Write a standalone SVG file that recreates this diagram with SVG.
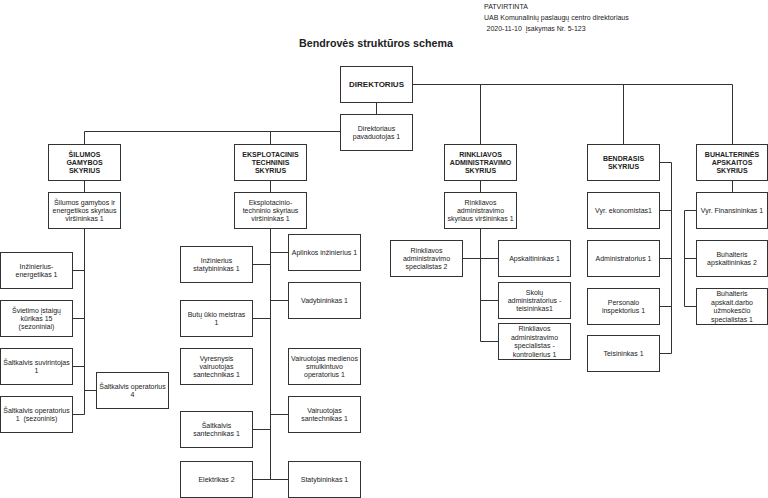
<svg xmlns="http://www.w3.org/2000/svg" width="768" height="498" viewBox="0 0 768 498">
<style>
.b{fill:#fff;stroke:#333;stroke-width:1}
.c{fill:none;stroke:#333;stroke-width:1}
text{font-family:"Liberation Sans",Arial,sans-serif;font-size:7px;fill:#222;text-anchor:middle;white-space:pre}
.h{font-weight:bold}
.l{text-anchor:start}
</style>
<rect width="768" height="498" fill="#fff"/>
<g id="header">
<text class="l" x="484" y="9">PATVIRTINTA</text>
<text class="l" x="484" y="19.8">UAB Komunalinių paslaugų centro direktoriaus</text>
<text class="l" x="486.5" y="30.6">2020-11-10  įsakymas Nr. 5-123</text>
<text class="l h" x="299" y="46.5" style="font-size:10.7px">Bendrovės struktūros schema</text>
</g>
<g id="connectors">
<path class="c" d="M412.5 84.5H732.5M480.5 84.5V144M623.5 84.5V144M732.5 84.5V144"/>
<path class="c" d="M376.5 102V114M84.5 131.5H340.5M84.5 131.5V144M270.5 131.5V144"/>
<path class="c" d="M84.5 180V192M84.5 228V414.5M72.5 270.5H84.5M72.5 318.5H84.5M72.5 366.5H84.5M72.5 414.5H84.5M84.5 390.5H96.5"/>
<path class="c" d="M270.5 180V192M270.5 228V479.5M270.5 252.5H288.5M252.5 264.5H270.5M270.5 300.5H288.5M252.5 318.5H270.5M270.5 414.5H288.5M252.5 429.5H270.5M252.5 479.5H288.5"/>
<path class="c" d="M480.5 180V192M480.5 228V341.5M462.5 258.5H498.5M480.5 300.5H498.5M480.5 341.5H498.5"/>
<path class="c" d="M659.5 162.5H671.5V353.5M659.5 210.5H671.5M659.5 258.5H671.5M659.5 306.5H671.5M659.5 353.5H671.5"/>
<path class="c" d="M732.5 180V192M696.5 210.5H684.5V306.5M684.5 258.5H696.5M684.5 306.5H696.5"/>
</g>
<g id="direktorius"><rect class="b" x="340.5" y="66.5" width="72" height="36"/><text class="h" x="376.5" y="87.3" style="font-size:8px">DIREKTORIUS</text></g>
<g id="pavaduotojas"><rect class="b" x="340.5" y="114.5" width="72" height="36"/><text x="376.5" y="130.8">Direktoriaus<tspan x="376.5" dy="8.4">pavaduotojas 1</tspan></text></g>

<g id="silumos"><rect class="b" x="48.5" y="144.5" width="72" height="36"/><text class="h" x="84.5" y="156.6">ŠILUMOS<tspan x="84.5" dy="8.4">GAMYBOS</tspan><tspan x="84.5" dy="8.4">SKYRIUS</tspan></text></g>
<g id="silumos-vir"><rect class="b" x="48.5" y="192.5" width="72" height="36"/><text x="84.5" y="204.6">Šilumos gamybos ir<tspan x="84.5" dy="8.4">energetikos skyriaus</tspan><tspan x="84.5" dy="8.4">viršininkas 1</tspan></text></g>
<g id="inz-energ"><rect class="b" x="0.5" y="252.5" width="72" height="36"/><text x="36.5" y="268.8">Inžinierius-<tspan x="36.5" dy="8.4">energetikas 1</tspan></text></g>
<g id="svietimo"><rect class="b" x="0.5" y="300.5" width="72" height="36"/><text x="36.5" y="312.6">Švietimo įstaigų<tspan x="36.5" dy="8.4">kūrikas 15</tspan><tspan x="36.5" dy="8.4">(sezoniniai)</tspan></text></g>
<g id="suvirintojas"><rect class="b" x="0.5" y="348.5" width="72" height="36"/><text x="36.5" y="364.8">Šaltkalvis suvirintojas<tspan x="36.5" dy="8.4">1</tspan></text></g>
<g id="operatorius-sez"><rect class="b" x="0.5" y="396.5" width="72" height="36"/><text x="36.5" y="412.8">Šaltkalvis operatorius<tspan x="36.5" dy="8.4">1  (sezoninis)</tspan></text></g>
<g id="operatorius-4"><rect class="b" x="96.5" y="372.5" width="72" height="36"/><text x="132.5" y="388.8">Šaltkalvis operatorius<tspan x="132.5" dy="8.4">4</tspan></text></g>

<g id="eksplotacinis"><rect class="b" x="234.5" y="144.5" width="72" height="36"/><text class="h" x="270.5" y="156.6">EKSPLOTACINIS<tspan x="270.5" dy="8.4">TECHNINIS</tspan><tspan x="270.5" dy="8.4">SKYRIUS</tspan></text></g>
<g id="eksp-vir"><rect class="b" x="234.5" y="192.5" width="72" height="36"/><text x="270.5" y="204.6">Eksplotacinio-<tspan x="270.5" dy="8.4">techninio skyriaus</tspan><tspan x="270.5" dy="8.4">viršininkas 1</tspan></text></g>
<g id="aplinkos"><rect class="b" x="288.5" y="234.5" width="72" height="36"/><text x="324.5" y="255">Aplinkos inžinierius 1</text></g>
<g id="inz-stat"><rect class="b" x="180.5" y="246.5" width="72" height="36"/><text x="216.5" y="262.8">Inžinierius<tspan x="216.5" dy="8.4">statybininkas 1</tspan></text></g>
<g id="vadybininkas"><rect class="b" x="288.5" y="282.5" width="72" height="36"/><text x="324.5" y="303">Vadybininkas 1</text></g>
<g id="butu"><rect class="b" x="180.5" y="300.5" width="72" height="36"/><text x="216.5" y="316.8">Butų ūkio meistras<tspan x="216.5" dy="8.4">1</tspan></text></g>
<g id="vyresnysis"><rect class="b" x="180.5" y="348.5" width="72" height="36"/><text x="216.5" y="360.6">Vyresnysis<tspan x="216.5" dy="8.4">vairuotojas</tspan><tspan x="216.5" dy="8.4">santechnikas 1</tspan></text></g>
<g id="vair-med"><rect class="b" x="288.5" y="348.5" width="72" height="36"/><text x="324.5" y="360.6">Vairuotojas medienos<tspan x="324.5" dy="8.4">smulkintuvo</tspan><tspan x="324.5" dy="8.4">operatorius 1</tspan></text></g>
<g id="vair-sant"><rect class="b" x="288.5" y="396.5" width="72" height="36"/><text x="324.5" y="412.8">Vairuotojas<tspan x="324.5" dy="8.4">santechnikas 1</tspan></text></g>
<g id="saltk-sant"><rect class="b" x="180.5" y="411.5" width="72" height="36"/><text x="216.5" y="427.8">Šaltkalvis<tspan x="216.5" dy="8.4">santechnikas 1</tspan></text></g>
<g id="elektrikas"><rect class="b" x="180.5" y="461.5" width="72" height="36"/><text x="216.5" y="482">Elektrikas 2</text></g>
<g id="statybininkas"><rect class="b" x="288.5" y="461.5" width="72" height="36"/><text x="324.5" y="482">Statybininkas 1</text></g>

<g id="rinkliavos"><rect class="b" x="444.5" y="144.5" width="72" height="36"/><text class="h" x="480.5" y="156.6">RINKLIAVOS<tspan x="480.5" dy="8.4">ADMINISTRAVIMO</tspan><tspan x="480.5" dy="8.4">SKYRIUS</tspan></text></g>
<g id="rinkl-vir"><rect class="b" x="444.5" y="192.5" width="72" height="36"/><text x="480.5" y="204.6">Rinkliavos<tspan x="480.5" dy="8.4">administravimo</tspan><tspan x="480.5" dy="8.4">skyriaus viršininkas 1</tspan></text></g>
<g id="rinkl-spec"><rect class="b" x="390.5" y="240.5" width="72" height="36"/><text x="426.5" y="252.6">Rinkliavos<tspan x="426.5" dy="8.4">administravimo</tspan><tspan x="426.5" dy="8.4">specialistas 2</tspan></text></g>
<g id="apskaitininkas"><rect class="b" x="498.5" y="240.5" width="72" height="36"/><text x="534.5" y="261">Apskaitininkas 1</text></g>
<g id="skolu"><rect class="b" x="498.5" y="282.5" width="72" height="36"/><text x="534.5" y="294.6">Skolų<tspan x="534.5" dy="8.4">administratorius -</tspan><tspan x="534.5" dy="8.4">teisininkas1</tspan></text></g>
<g id="kontrolierius"><rect class="b" x="498.5" y="323.5" width="72" height="36"/><text x="534.5" y="331.4">Rinkliavos<tspan x="534.5" dy="8.4">administravimo</tspan><tspan x="534.5" dy="8.4">specialistas -</tspan><tspan x="534.5" dy="8.4">kontrolierius 1</tspan></text></g>

<g id="bendrasis"><rect class="b" x="587.5" y="144.5" width="72" height="36"/><text class="h" x="623.5" y="160.8">BENDRASIS<tspan x="623.5" dy="8.4">SKYRIUS</tspan></text></g>
<g id="ekonomistas"><rect class="b" x="587.5" y="192.5" width="72" height="36"/><text x="623.5" y="213">Vyr. ekonomistas1</text></g>
<g id="administratorius"><rect class="b" x="587.5" y="240.5" width="72" height="36"/><text x="623.5" y="261">Administratorius 1</text></g>
<g id="personalo"><rect class="b" x="587.5" y="288.5" width="72" height="36"/><text x="623.5" y="304.8">Personalo<tspan x="623.5" dy="8.4">inspektorius 1</tspan></text></g>
<g id="teisininkas"><rect class="b" x="587.5" y="335.5" width="72" height="36"/><text x="623.5" y="356">Teisininkas 1</text></g>

<g id="buhalterines"><rect class="b" x="696.5" y="144.5" width="71" height="36"/><text class="h" x="732" y="156.6">BUHALTERINĖS<tspan x="732" dy="8.4">APSKAITOS</tspan><tspan x="732" dy="8.4">SKYRIUS</tspan></text></g>
<g id="finansininkas"><rect class="b" x="696.5" y="192.5" width="71" height="36"/><text x="732" y="213">Vyr. Finansininkas 1</text></g>
<g id="buh-apsk"><rect class="b" x="696.5" y="240.5" width="71" height="36"/><text x="732" y="256.8">Buhalteris<tspan x="732" dy="8.4">apskaitininkas 2</tspan></text></g>
<g id="buh-darbo"><rect class="b" x="696.5" y="288.5" width="71" height="36"/><text x="732" y="296.4">Buhalteris<tspan x="732" dy="8.4">apskait.darbo</tspan><tspan x="732" dy="8.4">užmokesčio</tspan><tspan x="732" dy="8.4">specialistas 1</tspan></text></g>
</svg>
